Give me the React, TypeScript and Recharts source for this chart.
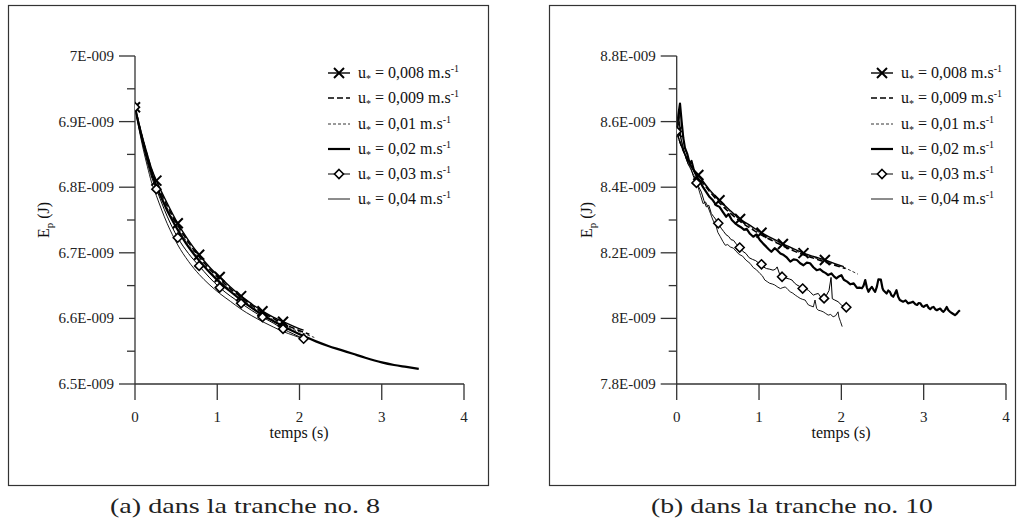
import React from 'react';
import { LineChart, Line, XAxis, YAxis } from 'recharts';

type Pt = [number, number];

// ---------- labels / ticks ----------
const seriesSpeeds = ['0,008', '0,009', '0,01', '0,02', '0,03', '0,04'];
const xTicks = [0, 1, 2, 3, 4];
const leftYMajor = [6.5, 6.6, 6.7, 6.8, 6.9, 7];
const leftYMinor = [6.55, 6.65, 6.75, 6.85, 6.95];
const rightYMajor = [7.8, 8, 8.2, 8.4, 8.6, 8.8];
const rightYMinor = [7.9, 8.1, 8.3, 8.5, 8.7];
const captions = ['(a) dans la tranche no. 8', '(b) dans la tranche no. 10'];

// ---------- panel (a): tranche 8, values in 1E-009 J ----------
const left008: Pt[] = [[0,6.922],[0.05,6.896],[0.1,6.872],[0.15,6.85],[0.2,6.829],[0.26,6.81],[0.39,6.776],[0.52,6.745],[0.65,6.719],[0.78,6.697],[0.9,6.679],[1.03,6.663],[1.16,6.648],[1.29,6.634],[1.42,6.622],[1.55,6.611],[1.68,6.602],[1.8,6.595],[1.93,6.588],[2.05,6.582]];
const left009: Pt[] = [[0,6.922],[0.05,6.895],[0.1,6.87],[0.15,6.848],[0.2,6.827],[0.26,6.807],[0.39,6.772],[0.52,6.742],[0.65,6.716],[0.78,6.694],[0.9,6.676],[1.03,6.66],[1.16,6.645],[1.29,6.632],[1.42,6.62],[1.55,6.609],[1.68,6.6],[1.8,6.592],[1.93,6.585],[2.05,6.579],[2.12,6.576]];
const left010: Pt[] = [[0,6.922],[0.05,6.894],[0.1,6.869],[0.15,6.846],[0.2,6.825],[0.26,6.805],[0.39,6.769],[0.52,6.739],[0.65,6.713],[0.78,6.691],[0.9,6.673],[1.03,6.657],[1.16,6.643],[1.29,6.63],[1.42,6.618],[1.55,6.607],[1.68,6.598],[1.8,6.59],[1.93,6.583],[2.05,6.577],[2.18,6.571]];
const left020: Pt[] = [[0,6.922],[0.05,6.893],[0.1,6.867],[0.15,6.844],[0.2,6.822],[0.26,6.802],[0.39,6.765],[0.52,6.735],[0.65,6.709],[0.78,6.688],[0.9,6.671],[1.03,6.655],[1.16,6.641],[1.29,6.628],[1.42,6.616],[1.55,6.605],[1.68,6.596],[1.8,6.588],[1.93,6.58],[2.05,6.573],[2.2,6.565],[2.35,6.558],[2.5,6.552],[2.65,6.546],[2.8,6.54],[3.0,6.533],[3.15,6.529],[3.3,6.526],[3.45,6.523]];
const left030: Pt[] = [[0,6.922],[0.05,6.891],[0.1,6.863],[0.15,6.838],[0.2,6.816],[0.26,6.797],[0.39,6.756],[0.52,6.723],[0.65,6.699],[0.78,6.68],[0.9,6.663],[1.03,6.647],[1.16,6.634],[1.29,6.623],[1.42,6.612],[1.55,6.602],[1.68,6.593],[1.8,6.584],[1.93,6.576],[2.05,6.569]];
const left040: Pt[] = [[0,6.922],[0.05,6.888],[0.1,6.858],[0.15,6.832],[0.2,6.808],[0.26,6.787],[0.39,6.745],[0.52,6.712],[0.65,6.687],[0.78,6.667],[0.9,6.652],[1.03,6.638],[1.16,6.626],[1.29,6.614],[1.42,6.604],[1.55,6.595],[1.68,6.587],[1.8,6.58],[1.93,6.574],[2.02,6.57]];
const leftCrossTimes = [0, 0.26, 0.52, 0.78, 1.03, 1.29, 1.55, 1.8];
const leftDiamondTimes = [0, 0.26, 0.52, 0.78, 1.03, 1.29, 1.55, 1.8, 2.05];

// ---------- panel (b): tranche 10, values in 1E-009 J ----------
const right008: Pt[] = [[0,8.568],[0.05,8.53],[0.1,8.5],[0.15,8.476],[0.2,8.456],[0.263,8.437],[0.39,8.395],[0.52,8.36],[0.645,8.33],[0.77,8.303],[0.9,8.282],[1.03,8.261],[1.16,8.244],[1.29,8.227],[1.42,8.212],[1.54,8.199],[1.67,8.188],[1.8,8.178],[1.92,8.167],[2.03,8.158]];
const right009: Pt[] = [[0,8.57],[0.05,8.53],[0.1,8.5],[0.15,8.474],[0.2,8.453],[0.26,8.432],[0.39,8.39],[0.52,8.352],[0.645,8.322],[0.77,8.296],[0.9,8.274],[1.03,8.254],[1.16,8.237],[1.29,8.221],[1.42,8.206],[1.54,8.194],[1.67,8.183],[1.8,8.172],[1.92,8.162],[2.05,8.152]];
const right010: Pt[] = [[0,8.57],[0.05,8.532],[0.1,8.502],[0.15,8.476],[0.2,8.455],[0.26,8.434],[0.39,8.392],[0.52,8.356],[0.645,8.326],[0.77,8.3],[0.9,8.278],[1.03,8.257],[1.16,8.24],[1.29,8.224],[1.42,8.209],[1.54,8.196],[1.67,8.185],[1.8,8.175],[1.92,8.165],[2.05,8.153],[2.2,8.135]];
const right020: Pt[] = [[0,8.57],[0.02,8.62],[0.04,8.655],[0.06,8.6],[0.08,8.55],[0.1,8.52],[0.13,8.5],[0.16,8.47],[0.18,8.48],[0.21,8.45],[0.25,8.43],[0.28,8.42],[0.32,8.4],[0.36,8.385],[0.4,8.37],[0.44,8.36],[0.48,8.345],[0.52,8.34],[0.56,8.325],[0.6,8.31],[0.63,8.318],[0.67,8.3],[0.71,8.29],[0.74,8.284],[0.78,8.278],[0.82,8.27],[0.85,8.273],[0.89,8.258],[0.93,8.249],[0.97,8.256],[1.01,8.239],[1.05,8.228],[1.09,8.218],[1.12,8.21],[1.15,8.203],[1.19,8.214],[1.22,8.208],[1.26,8.198],[1.3,8.193],[1.34,8.185],[1.38,8.173],[1.42,8.18],[1.46,8.178],[1.5,8.168],[1.54,8.162],[1.58,8.17],[1.62,8.168],[1.66,8.156],[1.7,8.147],[1.74,8.15],[1.78,8.142],[1.81,8.138],[1.84,8.132],[1.88,8.137],[1.91,8.128],[1.94,8.122],[1.97,8.128],[2.0,8.132],[2.03,8.118],[2.07,8.112],[2.11,8.104],[2.15,8.107],[2.19,8.093],[2.22,8.094],[2.25,8.092],[2.27,8.1],[2.29,8.117],[2.31,8.094],[2.33,8.081],[2.35,8.09],[2.37,8.096],[2.39,8.088],[2.41,8.081],[2.43,8.095],[2.45,8.119],[2.48,8.118],[2.5,8.092],[2.51,8.086],[2.55,8.076],[2.57,8.085],[2.59,8.081],[2.61,8.07],[2.63,8.066],[2.65,8.075],[2.67,8.086],[2.69,8.066],[2.71,8.056],[2.75,8.051],[2.78,8.055],[2.81,8.046],[2.84,8.048],[2.87,8.051],[2.9,8.043],[2.92,8.041],[2.94,8.047],[2.96,8.046],[2.98,8.038],[3.0,8.035],[3.02,8.039],[3.04,8.041],[3.06,8.032],[3.08,8.028],[3.1,8.033],[3.12,8.035],[3.14,8.028],[3.16,8.025],[3.18,8.028],[3.2,8.03],[3.22,8.024],[3.24,8.02],[3.26,8.026],[3.28,8.035],[3.3,8.025],[3.32,8.02],[3.35,8.015],[3.38,8.01],[3.4,8.014],[3.42,8.02],[3.44,8.025]];
const right030: Pt[] = [[0,8.57],[0.03,8.6],[0.05,8.55],[0.08,8.52],[0.11,8.49],[0.14,8.47],[0.17,8.46],[0.2,8.435],[0.24,8.413],[0.27,8.4],[0.3,8.385],[0.33,8.36],[0.36,8.34],[0.39,8.345],[0.42,8.32],[0.45,8.31],[0.48,8.3],[0.505,8.29],[0.54,8.275],[0.57,8.265],[0.6,8.255],[0.63,8.25],[0.66,8.24],[0.69,8.238],[0.72,8.228],[0.765,8.216],[0.8,8.205],[0.84,8.198],[0.88,8.185],[0.92,8.18],[0.96,8.176],[1.0,8.168],[1.03,8.165],[1.06,8.156],[1.09,8.152],[1.13,8.15],[1.17,8.147],[1.2,8.15],[1.22,8.157],[1.25,8.135],[1.28,8.127],[1.31,8.125],[1.34,8.122],[1.37,8.12],[1.4,8.117],[1.43,8.108],[1.46,8.102],[1.49,8.098],[1.53,8.091],[1.56,8.09],[1.6,8.086],[1.63,8.078],[1.66,8.071],[1.69,8.074],[1.72,8.076],[1.76,8.061],[1.79,8.061],[1.82,8.071],[1.85,8.085],[1.875,8.125],[1.89,8.06],[1.92,8.056],[1.96,8.051],[2.0,8.041],[2.03,8.037],[2.06,8.034]];
const right040: Pt[] = [[0,8.57],[0.03,8.63],[0.05,8.55],[0.08,8.515],[0.11,8.49],[0.14,8.47],[0.17,8.455],[0.2,8.44],[0.23,8.425],[0.26,8.4],[0.29,8.375],[0.32,8.35],[0.35,8.355],[0.38,8.34],[0.41,8.32],[0.44,8.3],[0.46,8.29],[0.48,8.28],[0.5,8.262],[0.53,8.249],[0.56,8.235],[0.59,8.223],[0.62,8.225],[0.65,8.218],[0.69,8.214],[0.72,8.205],[0.76,8.195],[0.8,8.19],[0.84,8.178],[0.89,8.168],[0.93,8.155],[0.97,8.148],[1.01,8.137],[1.04,8.13],[1.07,8.117],[1.1,8.112],[1.13,8.107],[1.16,8.105],[1.19,8.102],[1.23,8.095],[1.26,8.091],[1.29,8.094],[1.32,8.096],[1.35,8.088],[1.38,8.081],[1.41,8.077],[1.44,8.071],[1.47,8.066],[1.5,8.061],[1.53,8.058],[1.56,8.056],[1.58,8.048],[1.6,8.041],[1.63,8.038],[1.66,8.035],[1.68,8.056],[1.7,8.03],[1.72,8.025],[1.75,8.023],[1.78,8.02],[1.81,8.015],[1.84,8.01],[1.87,8.012],[1.9,8.005],[1.93,8.008],[1.96,8.02],[1.97,8.004],[1.99,7.99],[2.01,7.975]];
const rightCrossTimes = [0, 0.263, 0.52, 0.77, 1.03, 1.29, 1.54, 1.8];
const rightDiamondTimes = [0, 0.24, 0.505, 0.765, 1.03, 1.28, 1.53, 1.79, 2.06];

// ---------- styles ----------
const FONT = '"Liberation Serif", "Times New Roman", serif';
const AX = '#333';
type Style = { w: number; dash?: string; marker?: 'x' | 'd'; smooth: boolean };
const leftStyles: Style[] = [
  { w: 1.4, marker: 'x', smooth: true },
  { w: 1.6, dash: '6 3', smooth: true },
  { w: 0.8, dash: '3 2', smooth: true },
  { w: 2.2, smooth: true },
  { w: 1.0, marker: 'd', smooth: true },
  { w: 0.9, smooth: true },
];
const rightStyles: Style[] = [
  { w: 1.4, marker: 'x', smooth: true },
  { w: 1.5, dash: '6 3', smooth: true },
  { w: 0.8, dash: '3 2', smooth: true },
  { w: 2.2, smooth: false },
  { w: 1.0, marker: 'd', smooth: false },
  { w: 0.9, smooth: false },
];

const toObj = (pts: Pt[]) => pts.map(([t, v]) => ({ t, v }));
const fmt = (v: number) => `${Number(v.toFixed(1))}E-009`;

const Cross = ({ cx, cy }: { cx: number; cy: number }) => (
  <g stroke="#000" strokeWidth={2}>
    <line x1={cx - 5} y1={cy - 5} x2={cx + 5} y2={cy + 5} />
    <line x1={cx - 5} y1={cy + 5} x2={cx + 5} y2={cy - 5} />
  </g>
);
const Diamond = ({ cx, cy }: { cx: number; cy: number }) => (
  <path d={`M${cx},${cy - 4.5}L${cx + 4.5},${cy}L${cx},${cy + 4.5}L${cx - 4.5},${cy}Z`} fill="#fff" stroke="#000" strokeWidth={1.6} />
);

const makeDot = (kind: 'x' | 'd', times: number[]) => (p: any) => {
  const { cx, cy, payload, index } = p;
  const hit = payload && times.some((t) => Math.abs(t - payload.t) < 1e-9);
  if (!hit || cx == null || cy == null) return <g key={`n${index}`} />;
  return kind === 'x' ? <g key={`m${index}`}><Cross cx={cx} cy={cy} /></g> : <g key={`m${index}`}><Diamond cx={cx} cy={cy} /></g>;
};

const makeYTick = (major: number[]) => (p: any) => {
  const { x, y, payload } = p;
  const isMajor = major.some((m) => Math.abs(m - payload.value) < 1e-6);
  return (
    <g>
      <line x1={x} x2={x - (isMajor ? 16 : 8)} y1={y} y2={y} stroke={AX} strokeWidth={1.3} />
      {isMajor && (
        <text x={x - 21} y={y + 5} textAnchor="end" fontFamily={FONT} fontSize={15} fill="#222">
          {fmt(payload.value)}
        </text>
      )}
    </g>
  );
};

const XTick = (p: any) => {
  const { x, y, payload } = p;
  return (
    <g>
      <line x1={x} x2={x} y1={y} y2={y + 16} stroke={AX} strokeWidth={1.3} />
      <text x={x} y={y + 38} textAnchor="middle" fontFamily={FONT} fontSize={15} fill="#222">
        {payload.value}
      </text>
    </g>
  );
};

type PanelProps = {
  series: Pt[][];
  styles: Style[];
  yMajor: number[];
  yMinor: number[];
  crossTimes: number[];
  diamondTimes: number[];
  marginLeft: number;
  marginRight: number;
};

const Panel = ({ series, styles, yMajor, yMinor, crossTimes, diamondTimes, marginLeft, marginRight }: PanelProps) => {
  const yTicks = [...yMajor, ...yMinor].sort((a, b) => a - b);
  const domain: [number, number] = [yMajor[0], yMajor[yMajor.length - 1]];
  return (
    <LineChart width={490} height={470} margin={{ top: 56, right: marginRight, bottom: 56, left: marginLeft }}>
      <XAxis
        type="number"
        dataKey="t"
        domain={[0, 4]}
        ticks={xTicks}
        interval={0}
        height={30}
        tickSize={0}
        tickMargin={0}
        tickLine={false}
        axisLine={{ stroke: AX, strokeWidth: 1.3 }}
        tick={XTick}
        allowDataOverflow
      />
      <YAxis
        type="number"
        dataKey="v"
        domain={domain}
        ticks={yTicks}
        interval={0}
        width={100}
        tickSize={0}
        tickMargin={0}
        tickLine={false}
        axisLine={{ stroke: AX, strokeWidth: 1.3 }}
        tick={makeYTick(yMajor)}
        allowDataOverflow
      />
      {series.map((s, i) => {
        const st = styles[i];
        const dot = st.marker === 'x' ? makeDot('x', crossTimes) : st.marker === 'd' ? makeDot('d', diamondTimes) : false;
        return (
          <Line
            key={i}
            data={toObj(s)}
            dataKey="v"
            type={st.smooth ? 'monotone' : 'linear'}
            stroke="#000"
            strokeWidth={st.w}
            strokeDasharray={st.dash}
            dot={dot as any}
            activeDot={false}
            isAnimationActive={false}
            strokeLinejoin="round"
          />
        );
      })}
    </LineChart>
  );
};

const LegendBlock = ({ x0, styles }: { x0: number; styles: Style[] }) => {
  const rows = [73, 98, 124, 149, 174, 199];
  return (
    <g>
      {seriesSpeeds.map((sp, i) => {
        const st = styles[i];
        const y = rows[i];
        return (
          <g key={i}>
            <line x1={x0} x2={x0 + 22} y1={y} y2={y} stroke="#000" strokeWidth={st.w} strokeDasharray={st.dash} />
            {st.marker === 'x' && <Cross cx={x0 + 11} cy={y} />}
            {st.marker === 'd' && <Diamond cx={x0 + 11} cy={y} />}
            <text x={x0 + 30} y={y + 5} fontFamily={FONT} fontSize={16} fill="#111">
              u<tspan fontSize={10} dy={4}>*</tspan>
              <tspan dy={-4}>{` = ${sp} m.s`}</tspan>
              <tspan fontSize={10} dy={-6}>-1</tspan>
            </text>
          </g>
        );
      })}
    </g>
  );
};

const AxisTitles = ({ xMid, yLabelX }: { xMid: number; yLabelX: number }) => (
  <g fontFamily={FONT} fill="#111">
    <text x={xMid} y={438} textAnchor="middle" fontSize={16}>temps (s)</text>
    <text transform={`translate(${yLabelX},220) rotate(-90)`} textAnchor="middle" fontSize={16}>
      E<tspan fontSize={11} dy={4}>p</tspan>
      <tspan dy={-4}> (J)</tspan>
    </text>
  </g>
);

export default function App() {
  return (
    <div style={{ position: 'absolute', left: 0, top: 0, width: 1018, height: 529, background: '#fff', overflow: 'hidden' }}>
      <div style={{ position: 'absolute', left: 0, top: 0 }}>
        <Panel
          series={[left008, left009, left010, left020, left030, left040]}
          styles={leftStyles}
          yMajor={leftYMajor}
          yMinor={leftYMinor}
          crossTimes={leftCrossTimes}
          diamondTimes={leftDiamondTimes}
          marginLeft={35}
          marginRight={26}
        />
      </div>
      <div style={{ position: 'absolute', left: 520, top: 0 }}>
        <Panel
          series={[right008, right009, right010, right020, right030, right040]}
          styles={rightStyles}
          yMajor={rightYMajor}
          yMinor={rightYMinor}
          crossTimes={rightCrossTimes}
          diamondTimes={rightDiamondTimes}
          marginLeft={56.7}
          marginRight={4}
        />
      </div>
      <svg width={1018} height={529} style={{ position: 'absolute', left: 0, top: 0, pointerEvents: 'none' }}>
        <rect x={8.5} y={5.5} width={480} height={480} fill="none" stroke={AX} strokeWidth={1.2} />
        <rect x={549.5} y={5.5} width={466} height={480} fill="none" stroke={AX} strokeWidth={1.2} />
        <LegendBlock x0={328} styles={leftStyles} />
        <LegendBlock x0={871} styles={rightStyles} />
        <AxisTitles xMid={299} yLabelX={49} />
        <AxisTitles xMid={841} yLabelX={592} />
        <text x={245} y={513} textAnchor="middle" fontFamily={FONT} fontSize={22} fill="#222" textLength={270} lengthAdjust="spacingAndGlyphs">
          {captions[0]}
        </text>
        <text x={792} y={513} textAnchor="middle" fontFamily={FONT} fontSize={22} fill="#222" textLength={282} lengthAdjust="spacingAndGlyphs">
          {captions[1]}
        </text>
      </svg>
    </div>
  );
}
